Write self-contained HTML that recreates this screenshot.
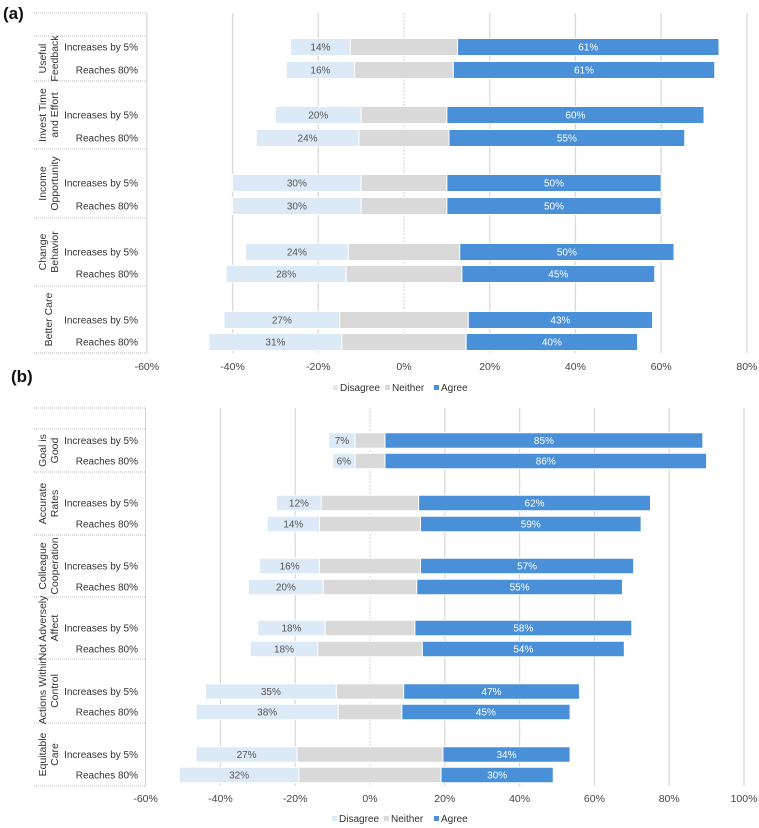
<!DOCTYPE html>
<html><head><meta charset="utf-8"><style>
html,body{margin:0;padding:0;background:#fff;}
svg{display:block;font-family:"Liberation Sans",sans-serif;}
</style></head><body>
<svg id="chart" width="759" height="828" viewBox="0 0 759 828"></svg>
<script>
// ---------- Panel (a) data ----------
const groupsA = ["Useful\nFeedback","Invest Time\nand Effort","Income\nOpportunity","Change\nBehavior","Better Care"];
const rowLabelsA = ["Increases by 5%","Reaches 80%"];
const disagreeA = [14,16,20,24,30,30,24,28,27,31];
const neitherA  = [25,23,20,21,20,20,26,27,30,29];
const agreeA    = [61,61,60,55,50,50,50,45,43,40];
const ticksA = [-60,-40,-20,0,20,40,60,80];
// ---------- Panel (b) data ----------
const groupsB = ["Goal is\nGood","Accurate\nRates","Colleague\nCooperation","Not Adversely\nAffect","Actions Within\nControl","Equitable\nCare"];
const rowLabelsB = ["Increases by 5%","Reaches 80%"];
const disagreeB = [7,6,12,14,16,20,18,18,35,38,27,32];
const neitherB  = [8,8,26,27,27,25,24,28,18,17,39,38];
const agreeB    = [85,86,62,59,57,55,58,54,47,45,34,30];
const ticksB = [-60,-40,-20,0,20,40,60,80,100];

const NS="http://www.w3.org/2000/svg";
const svg=document.getElementById('chart');
function mk(tag,attrs,parent){const e=document.createElementNS(NS,tag);for(const k in attrs)e.setAttribute(k,attrs[k]);(parent||svg).appendChild(e);return e;}
function txt(s,attrs,parent){const e=mk('text',attrs,parent);e.textContent=s;return e;}

const C_DIS="#dce9f7",C_NEI="#d9d9d9",C_AGR="#4a90d9";

function panel(cfg){
  const g=mk('g',{});
  
  
  const x=v=>cfg.x0+v*cfg.k;
  // gridlines
  cfg.ticks.forEach(t=>{
    if(t===cfg.ticks[0])return;
    const l=mk('line',{x1:x(t),x2:x(t),y1:cfg.top,y2:cfg.bottom,stroke:t===0?"#cfcfcf":"#d9d9d9","stroke-width":t===0?1:1.3,"stroke-dasharray":t===0?"2,1.5":"none"},g);
    
    
    const lb=txt(t+"%",{x:x(t),y:cfg.tickY,"text-anchor":"middle","font-size":"10.5",fill:"#444"},g);
    
    
  });
  const lb0=txt(cfg.ticks[0]+"%",{x:x(cfg.ticks[0]),y:cfg.tickY,"text-anchor":"middle","font-size":"10.5",fill:"#444"},g);
  
  
  // axis line
  const ax=mk('line',{x1:x(cfg.ticks[0]),x2:x(cfg.ticks[0]),y1:cfg.top,y2:cfg.bottom,stroke:"#d0d0d0","stroke-width":1},g);
  
  
  // group separators
  cfg.sep.forEach(yy=>{
    const s=mk('line',{x1:34,x2:x(cfg.ticks[0]),y1:yy,y2:yy,stroke:"#bbb","stroke-width":1,"stroke-dasharray":"1,1"},g);
    
    
  });
  // group labels
  cfg.groups.forEach((name,i)=>{
    const y0=cfg.sep[i+1],y1=cfg.sep[i+2];
    const cy=(y0+y1)/2;
    const lines=name.split("\n");
    const gl=mk('text',{transform:`translate(48,${cy}) rotate(-90)`,"text-anchor":"middle","font-size":"10.5",fill:"#333"},g);
    
    
    lines.forEach((ln,j)=>{
      const ts=mk('tspan',{x:0,dy:j===0?(lines.length===1?4:-2):12},gl);
      ts.textContent=ln;
    });
  });
  // bars
  cfg.dis.forEach((d,i)=>{
    const n=cfg.nei[i],a=cfg.agr[i];
    const cy=cfg.rowY[i];
    const h=cfg.bh;
    const lbl=txt(cfg.rowLabels[i%2],{x:138,y:cy+3.5,"text-anchor":"end","font-size":"10",fill:"#333"},g);
    
    
    const xl=x(-n/2-d),xn=x(-n/2),xa=x(n/2),xe=x(n/2+a);
    const r1=mk('rect',{x:xl,y:cy-h/2,width:xn-xl,height:h,fill:C_DIS,stroke:"#fff","stroke-width":1},g);
    
    
    const r2=mk('rect',{x:xn,y:cy-h/2,width:xa-xn,height:h,fill:C_NEI,stroke:"#fff","stroke-width":1},g);
    
    
    const r3=mk('rect',{x:xa,y:cy-h/2,width:xe-xa,height:h,fill:C_AGR,stroke:"#fff","stroke-width":1},g);
    
    
    const t1=txt(d+"%",{x:(xl+xn)/2,y:cy+3.5,"text-anchor":"middle","font-size":"10",fill:"#555"},g);
    
    
    const t3=txt(a+"%",{x:(xa+xe)/2,y:cy+3.5,"text-anchor":"middle","font-size":"10",fill:"#fff"},g);
    
    
  });
  // legend
  const leg=mk('g',{},g);
  
  
  [["Disagree",C_DIS,cfg.legX[0]],["Neither",C_NEI,cfg.legX[1]],["Agree",C_AGR,cfg.legX[2]]].forEach(([nm,c,lx])=>{
    const e=mk('g',{},leg);
    
    
    mk('rect',{x:lx,y:cfg.legY-6,width:5,height:5,fill:c},e);
    txt(nm,{x:lx+7,y:cfg.legY,"font-size":"10",fill:"#333"},e);
  });
}

panel({name:'panel-a',x0:404,k:4.286,ticks:ticksA,top:13,bottom:353,tickY:370,
  sep:[13,36,81,149,218,286,353],groups:groupsA,rowLabels:rowLabelsA,
  dis:disagreeA,nei:neitherA,agr:agreeA,
  rowY:[47,70,115,138,183,206,252,274,320,342],bh:17,legX:[333,385,434],legY:391});
panel({name:'panel-b',x0:370,k:3.74,ticks:ticksB,top:408,bottom:786,tickY:802,
  sep:[408,429,472,535,597,659,723,786],groups:groupsB,rowLabels:rowLabelsB,
  dis:disagreeB,nei:neitherB,agr:agreeB,
  rowY:[440.5,461,503,524,566,587,628,649,691.5,712,754.5,775],bh:15.5,legX:[332,384,434],legY:822});

const pa=txt("(a)",{x:3,y:19,"font-size":"17","font-weight":"bold",fill:"#111"});


const pb=txt("(b)",{x:11,y:382,"font-size":"17","font-weight":"bold",fill:"#111"});


</script>
</body></html>
